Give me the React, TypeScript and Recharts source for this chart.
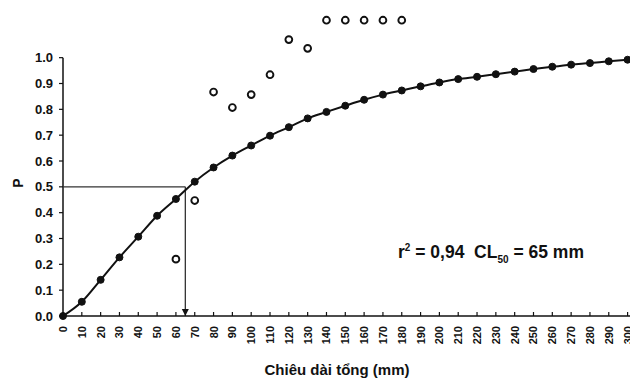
import { ComposedChart, Line, Scatter, XAxis, YAxis, ReferenceLine, ReferenceDot } from "recharts";

const lengths = [0, 10, 20, 30, 40, 50, 60, 70, 80, 90, 100, 110, 120, 130, 140, 150, 160, 170, 180, 190, 200, 210, 220, 230, 240, 250, 260, 270, 280, 290, 300];
const fitted = [0, 0.055, 0.14, 0.227, 0.307, 0.388, 0.453, 0.52, 0.575, 0.621, 0.66, 0.698, 0.731, 0.765, 0.79, 0.814, 0.837, 0.857, 0.873, 0.889, 0.904, 0.917, 0.926, 0.936, 0.946, 0.956, 0.965, 0.973, 0.979, 0.986, 0.992];
const obsLengths = [60, 70, 80, 90, 100, 110, 120, 130, 140, 150, 160, 170, 180];
const observed = [0.22, 0.447, 0.867, 0.807, 0.857, 0.934, 1.07, 1.036, 1.145, 1.145, 1.145, 1.145, 1.145];
const yTicks = [0, 0.1, 0.2, 0.3, 0.4, 0.5, 0.6, 0.7, 0.8, 0.9, 1.0];
const cl50 = 65;

const fitData = lengths.map((len, i) => ({ len, p: fitted[i] }));
const obsData = obsLengths.map((len, i) => ({ len, p: observed[i] }));

const INK = "#111";
const FONT = "'Liberation Sans', Arial, sans-serif";

function XTick({ x, y, payload }: any) {
  return (
    <g>
      <line x1={x} y1={y} x2={x} y2={y - 4} stroke={INK} strokeWidth={1.2} />
      <text
        x={x}
        y={y + 10}
        transform={`rotate(-90, ${x}, ${y + 10})`}
        textAnchor="end"
        dominantBaseline="central"
        fontFamily={FONT}
        fontWeight="bold"
        fontSize={11}
        fill={INK}
      >
        {payload.value}
      </text>
    </g>
  );
}

const OpenDot = (props: any) => (
  <circle cx={props.cx} cy={props.cy} r={3.4} fill="#fff" stroke={INK} strokeWidth={1.9} />
);

const Arrow = (props: any) => (
  <path d={`M${props.cx - 3.5},${props.cy - 7} L${props.cx + 3.5},${props.cy - 7} L${props.cx},${props.cy} Z`} fill={INK} />
);

export default function App() {
  return (
    <div style={{ position: "fixed", left: 0, top: 0, width: 630, height: 379, overflow: "hidden", background: "#fff" }}>
      <ComposedChart width={640} height={379} margin={{ top: 6, right: 3, left: 0, bottom: 0 }}>
        <XAxis
          dataKey="len"
          type="number"
          domain={[0, 305]}
          ticks={lengths}
          interval={0}
          height={63}
          tickSize={0}
          tickMargin={0}
          tickLine={false}
          tick={<XTick />}
          axisLine={{ stroke: INK, strokeWidth: 1.5 }}
          allowDuplicatedCategory={false}
          label={{
            value: "Chiêu dài tổng (mm)",
            position: "insideBottom",
            offset: 4,
            dx: -13,
            fill: INK,
            fontFamily: FONT,
            fontWeight: "bold",
            fontSize: 15,
          }}
        />
        <YAxis
          type="number"
          domain={[0, 1.2]}
          ticks={yTicks}
          width={63}
          axisLine={false}
          tickSize={4}
          tickMargin={6}
          tickLine={{ stroke: INK, strokeWidth: 1.2 }}
          tickFormatter={(v: number) => v.toFixed(1)}
          tick={{ fill: INK, fontFamily: FONT, fontWeight: "bold", fontSize: 13 }}
          label={{
            content: () => (
              <text x={18} y={183} transform="rotate(-90, 18, 183)" textAnchor="middle" dominantBaseline="central" fontFamily={FONT} fontWeight="bold" fontSize={14} fill={INK}>
                P
              </text>
            ),
          }}
        />
        <ReferenceLine segment={[{ x: 0, y: 0 }, { x: 0, y: 1 }]} stroke={INK} strokeWidth={1.5} />
        <ReferenceLine segment={[{ x: 0, y: 0.5 }, { x: cl50, y: 0.5 }]} stroke="#333" strokeWidth={1.3} />
        <ReferenceLine segment={[{ x: cl50, y: 0.5 }, { x: cl50, y: 0 }]} stroke="#333" strokeWidth={1.3} />
        <ReferenceDot x={cl50} y={0} r={3} shape={<Arrow />} />
        <Line
          data={fitData}
          dataKey="p"
          type="monotone"
          stroke={INK}
          strokeWidth={2}
          dot={{ r: 3.5, fill: INK, stroke: INK, strokeWidth: 1 }}
          isAnimationActive={false}
        />
        <Scatter data={obsData} dataKey="p" shape={<OpenDot />} isAnimationActive={false} />
      </ComposedChart>
      <div
        style={{
          position: "absolute",
          left: 398,
          top: 237,
          fontFamily: FONT,
          fontWeight: "bold",
          fontSize: 17.5,
          color: INK,
          whiteSpace: "pre",
          lineHeight: "22px",
        }}
      >
        r<sup style={{ fontSize: 10, verticalAlign: 7 }}>2</sup> = 0,94  CL<sub style={{ fontSize: 10, verticalAlign: -5 }}>50</sub> = 65 mm
      </div>
    </div>
  );
}
